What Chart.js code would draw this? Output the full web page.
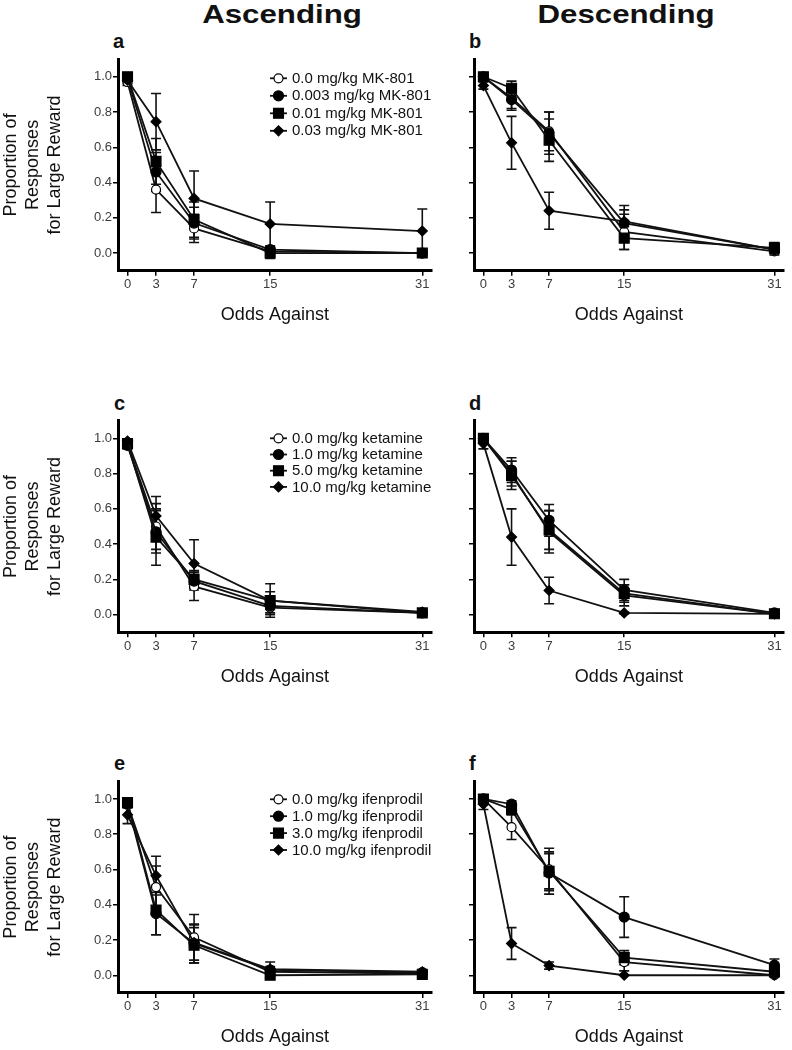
<!DOCTYPE html>
<html>
<head>
<meta charset="utf-8">
<script src="https://cdn.jsdelivr.net/npm/chart.js@4.4.0/dist/chart.umd.min.js"></script>
<style>
  body { margin: 0; background: #fff; width: 792px; height: 1050px; position: relative; overflow: hidden;
         font-family: "Liberation Sans", Arial, sans-serif; color: #111; }
  .panel { position: absolute; }
  .head { position: absolute; top: 2px; font-weight: bold; font-size: 25px; line-height: 25px;
          white-space: nowrap; transform: translateX(-50%) scaleX(1.25); }
  .letter { position: absolute; font-weight: bold; font-size: 20px; line-height: 20px; }
</style>
</head>
<body>
<div class="head" style="left:282px">Ascending</div>
<div class="head" style="left:626px">Descending</div>

<div class="letter" style="left:113px;top:31px">a</div>
<div class="letter" style="left:469px;top:31px">b</div>
<div class="letter" style="left:114px;top:393px">c</div>
<div class="letter" style="left:469px;top:393px">d</div>
<div class="letter" style="left:114px;top:753px">e</div>
<div class="letter" style="left:469px;top:753px">f</div>

<div class="panel" id="pa"><canvas id="ca"></canvas></div>
<div class="panel" id="pb"><canvas id="cb"></canvas></div>
<div class="panel" id="pc"><canvas id="cc"></canvas></div>
<div class="panel" id="pd"><canvas id="cd"></canvas></div>
<div class="panel" id="pe"><canvas id="ce"></canvas></div>
<div class="panel" id="pf"><canvas id="cf"></canvas></div>

<script>
// Axis values
const oddsAgainst = [0, 3, 7, 15, 31];
const yTicks = [0, 0.2, 0.4, 0.6, 0.8, 1.0];

// Legend labels
const mkLabels = ['0.0 mg/kg MK-801', '0.003 mg/kg MK-801', '0.01 mg/kg MK-801', '0.03 mg/kg MK-801'];
const ketLabels = ['0.0 mg/kg ketamine', '1.0 mg/kg ketamine', '5.0 mg/kg ketamine', '10.0 mg/kg ketamine'];
const ifenLabels = ['0.0 mg/kg ifenprodil', '1.0 mg/kg ifenprodil', '3.0 mg/kg ifenprodil', '10.0 mg/kg ifenprodil'];

// Means (rows = doses, cols = odds against)
const mkAscMean = [
  [0.97, 0.36, 0.14, 0.01, 0.00],
  [0.99, 0.46, 0.17, 0.02, 0.00],
  [1.00, 0.52, 0.19, 0.00, 0.00],
  [0.98, 0.745, 0.31, 0.165, 0.125]
];
const mkAscSem = [
  [0.02, 0.13, 0.08, 0.01, 0.00],
  [0.01, 0.11, 0.09, 0.02, 0.00],
  [0.00, 0.13, 0.10, 0.03, 0.00],
  [0.02, 0.16, 0.155, 0.125, 0.125]
];
const mkDescMean = [
  [1.00, 0.88, 0.69, 0.12, 0.01],
  [1.00, 0.87, 0.68, 0.17, 0.02],
  [1.00, 0.935, 0.64, 0.085, 0.03],
  [0.95, 0.625, 0.24, 0.18, 0.02]
];
const mkDescSem = [
  [0.01, 0.06, 0.11, 0.10, 0.02],
  [0.01, 0.06, 0.12, 0.10, 0.02],
  [0.01, 0.04, 0.12, 0.065, 0.03],
  [0.02, 0.15, 0.105, 0.065, 0.02]
];
const ketAscMean = [
  [0.97, 0.50, 0.16, 0.04, 0.01],
  [0.96, 0.47, 0.19, 0.05, 0.01],
  [0.97, 0.44, 0.20, 0.08, 0.01],
  [0.985, 0.56, 0.29, 0.08, 0.015]
];
const ketAscSem = [
  [0.02, 0.13, 0.08, 0.04, 0.01],
  [0.02, 0.12, 0.05, 0.04, 0.01],
  [0.02, 0.16, 0.05, 0.05, 0.01],
  [0.01, 0.11, 0.135, 0.095, 0.01]
];
const ketDescMean = [
  [1.00, 0.80, 0.47, 0.11, 0.005],
  [1.00, 0.82, 0.535, 0.14, 0.01],
  [1.00, 0.79, 0.48, 0.12, 0.005],
  [0.97, 0.44, 0.137, 0.01, 0.005]
];
const ketDescSem = [
  [0.01, 0.07, 0.12, 0.06, 0.005],
  [0.01, 0.07, 0.09, 0.06, 0.01],
  [0.01, 0.08, 0.11, 0.05, 0.005],
  [0.03, 0.16, 0.075, 0.005, 0.005]
];
const ifenAscMean = [
  [0.97, 0.50, 0.215, 0.02, 0.01],
  [0.97, 0.35, 0.18, 0.03, 0.015],
  [0.98, 0.37, 0.17, 0.00, 0.005],
  [0.91, 0.565, 0.185, 0.035, 0.02]
];
const ifenAscSem = [
  [0.02, 0.12, 0.13, 0.02, 0.01],
  [0.02, 0.12, 0.11, 0.02, 0.01],
  [0.01, 0.14, 0.10, 0.02, 0.01],
  [0.05, 0.11, 0.10, 0.04, 0.01]
];
const ifenDescMean = [
  [1.00, 0.84, 0.60, 0.075, 0.00],
  [1.00, 0.97, 0.58, 0.33, 0.057],
  [1.00, 0.94, 0.59, 0.10, 0.02],
  [0.97, 0.18, 0.055, 0.00, 0.00]
];
const ifenDescSem = [
  [0.01, 0.07, 0.12, 0.05, 0.01],
  [0.01, 0.02, 0.12, 0.115, 0.035],
  [0.01, 0.03, 0.10, 0.04, 0.02],
  [0.03, 0.09, 0.02, 0.00, 0.00]
];

Chart.defaults.font.family = '"Liberation Sans", Arial, sans-serif';

// Marker styles: open circle, filled circle, square, diamond
const markers = [
  { style: 'circle', radius: 4.5, fill: '#fff' },
  { style: 'circle', radius: 5, fill: '#000' },
  { style: 'rect', radius: 7, fill: '#000' },
  { style: 'rectRot', radius: 5, fill: '#000' }
];

// Error bars with caps
const errorBars = {
  id: 'errorBars',
  beforeDatasetsDraw(chart) {
    const ctx = chart.ctx;
    const y = chart.scales.y;
    chart.data.datasets.forEach((ds, i) => {
      const meta = chart.getDatasetMeta(i);
      ctx.save();
      ctx.strokeStyle = '#111';
      ctx.lineWidth = 1.6;
      meta.data.forEach((pt, j) => {
        const e = ds.errors[j];
        if (!e) return;
        const v = ds.data[j].y;
        const top = y.getPixelForValue(v + e);
        const bot = y.getPixelForValue(v - e);
        ctx.beginPath();
        ctx.moveTo(pt.x, top); ctx.lineTo(pt.x, bot);
        ctx.moveTo(pt.x - 5, top); ctx.lineTo(pt.x + 5, top);
        ctx.moveTo(pt.x - 5, bot); ctx.lineTo(pt.x + 5, bot);
        ctx.stroke();
      });
      ctx.restore();
    });
  }
};

// Legend: short line with the marker on it
const seriesKey = {
  id: 'seriesKey',
  afterDraw(chart, args, opts) {
    if (!opts.labels) return;
    const ctx = chart.ctx;
    const top = chart.chartArea.top;
    ctx.save();
    opts.labels.forEach((txt, i) => {
      const ds = chart.data.datasets[i];
      const yy = top + opts.y0 + i * opts.step;
      ctx.strokeStyle = '#111';
      ctx.lineWidth = 1.8;
      ctx.beginPath();
      ctx.moveTo(opts.x, yy); ctx.lineTo(opts.x + 17, yy);
      ctx.stroke();
      ctx.fillStyle = ds.pointBackgroundColor;
      ctx.strokeStyle = '#000';
      ctx.lineWidth = 1.2;
      Chart.helpers.drawPoint(ctx, { pointStyle: ds.pointStyle, radius: ds.pointRadius, borderWidth: 1.2, rotation: 0 }, opts.x + 8.5, yy);
      ctx.fillStyle = '#111';
      ctx.font = '15px "Liberation Sans", Arial, sans-serif';
      ctx.textBaseline = 'middle';
      ctx.fillText(txt, opts.x + 22, yy + 0.5);
    });
    ctx.restore();
  }
};

const plotH = 211.6;
const rows = [
  { top: 49, pad: 10.1, keyY: 19.2, keyStep: 17.5 },
  { top: 411, pad: 9.7, keyY: 17.6, keyStep: 16.2 },
  { top: 771, pad: 10.3, keyY: 18, keyStep: 16.9 }
];
const cols = [{ left: 0, width: 440, yW: 118, padR: 3.4 }, { left: 440, width: 352, yW: 34, padR: 0 }];

function makePanel(id, means, sems, labels, col, row) {
  const c = cols[col], r = rows[row];
  const h = 282;
  const xH = h - r.pad - plotH;
  const wrap = document.getElementById('p' + id);
  wrap.style.left = c.left + 'px';
  wrap.style.top = r.top + 'px';
  const canvas = document.getElementById('c' + id);
  canvas.width = c.width;
  canvas.height = h;

  const datasets = means.map((vals, i) => ({
    data: vals.map((v, j) => ({ x: oddsAgainst[j], y: v })),
    errors: sems[i],
    order: means.length - i,
    borderColor: '#111',
    borderWidth: 1.8,
    tension: 0,
    pointStyle: markers[i].style,
    pointRadius: markers[i].radius,
    pointBackgroundColor: markers[i].fill,
    pointBorderColor: '#000',
    pointBorderWidth: 1.2,
    clip: false
  }));

  new Chart(canvas.getContext('2d'), {
    type: 'line',
    data: { datasets },
    options: {
      responsive: false,
      animation: false,
      events: [],
      layout: { padding: { top: r.pad, right: c.padR, left: 0, bottom: 0 } },
      plugins: {
        legend: { display: false },
        tooltip: { enabled: false },
        seriesKey: col === 0 ? { labels: labels, x: 270, y0: r.keyY, step: r.keyStep } : {}
      },
      scales: {
        x: {
          type: 'linear',
          min: -1, max: 32,
          afterBuildTicks: s => { s.ticks = oddsAgainst.map(v => ({ value: v })); },
          afterFit: s => { s.height = xH; },
          grid: { drawOnChartArea: false, color: '#000', lineWidth: 1.5, tickLength: 5 },
          border: { color: '#000', width: 3 },
          ticks: { font: { size: 13 }, color: '#3c3c3c', padding: 1, maxRotation: 0, callback: v => String(v) },
          title: { display: true, text: 'Odds Against', font: { size: 18 }, color: '#111', padding: { top: 0, bottom: 5 } }
        },
        y: {
          type: 'linear',
          min: -0.1, max: 1.1,
          afterBuildTicks: s => { s.ticks = yTicks.map(v => ({ value: v })); },
          afterFit: s => { s.width = c.yW; },
          grid: { drawOnChartArea: false, color: '#000', lineWidth: 1.5, tickLength: 5 },
          border: { color: '#000', width: 3 },
          ticks: { display: col === 0, font: { size: 13 }, color: '#3c3c3c', padding: 1, callback: v => v.toFixed(1) },
          title: {
            display: col === 0,
            text: ['Proportion of', 'Responses', 'for Large Reward'],
            font: { size: 18, lineHeight: 1.22 },
            color: '#111',
            padding: { top: 0, bottom: 0 }
          }
        }
      }
    },
    plugins: [errorBars, seriesKey]
  });
}

makePanel('a', mkAscMean, mkAscSem, mkLabels, 0, 0);
makePanel('b', mkDescMean, mkDescSem, mkLabels, 1, 0);
makePanel('c', ketAscMean, ketAscSem, ketLabels, 0, 1);
makePanel('d', ketDescMean, ketDescSem, ketLabels, 1, 1);
makePanel('e', ifenAscMean, ifenAscSem, ifenLabels, 0, 2);
makePanel('f', ifenDescMean, ifenDescSem, ifenLabels, 1, 2);
</script>
</body>
</html>
